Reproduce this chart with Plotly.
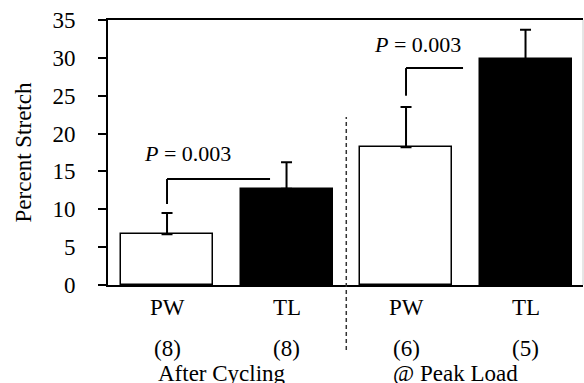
import plotly.graph_objects as go

# ---- data ----
categories = ["PW", "TL", "PW", "TL"]
positions = [0, 1, 2, 3]
n_labels = ["(8)", "(8)", "(6)", "(5)"]
means = [6.7, 12.7, 18.2, 29.8]
sd_plus = [2.8, 3.5, 5.3, 3.9]
bar_colors = ["white", "black", "white", "black"]
group_labels = ["After Cycling", "@ Peak Load"]
group_x = [0.46, 2.41]
p_text = ["<i>P</i> = 0.003", "<i>P</i> = 0.003"]
bracket_x0 = [0, 2]
bracket_x1 = [0.862, 2.477]
bracket_top = [14.0, 28.65]
bracket_bottom = [10.7, 25.0]
p_x = [0.17, 2.095]
p_y = [17.4, 31.7]

FONT = "Liberation Serif, Times New Roman, serif"

fig = go.Figure()
fig.add_trace(go.Bar(
    x=positions, y=means, width=0.77,
    marker=dict(color=bar_colors, line=dict(color="black", width=1.5)),
    error_y=dict(type="data", symmetric=False, array=sd_plus,
                 arrayminus=[0] * len(sd_plus), color="black",
                 thickness=2, width=5.5),
    showlegend=False,
))

shapes = []
for x0, x1, yt, yb in zip(bracket_x0, bracket_x1, bracket_top, bracket_bottom):
    shapes.append(dict(type="line", xref="x", yref="y", x0=x0, x1=x0, y0=yb, y1=yt,
                       line=dict(color="black", width=2)))
    shapes.append(dict(type="line", xref="x", yref="y", x0=x0, x1=x1, y0=yt, y1=yt,
                       line=dict(color="black", width=2)))
# dashed divider between groups
shapes.append(dict(type="line", xref="x", yref="paper", x0=1.5, x1=1.5, y0=-0.245, y1=0.634,
                   line=dict(color="#333333", width=1.5, dash="4px,3px")))
# faint right frame
shapes.append(dict(type="line", xref="paper", yref="paper", x0=1, x1=1, y0=0, y1=1,
                   line=dict(color="#cccccc", width=1)))

annotations = []
for x, t in zip(positions, categories):
    annotations.append(dict(x=x, y=-0.086, xref="x", yref="paper", text=t, showarrow=False,
                            yanchor="middle", font=dict(family=FONT, size=23, color="black")))
for x, t in zip(positions, n_labels):
    annotations.append(dict(x=x, y=-0.238, xref="x", yref="paper", text=t, showarrow=False,
                            yanchor="middle", font=dict(family=FONT, size=23, color="black")))
for x, t in zip(group_x, group_labels):
    annotations.append(dict(x=x, y=-0.335, xref="x", yref="paper", text=t, showarrow=False,
                            yanchor="middle", font=dict(family=FONT, size=23, color="black")))
for x, y, t in zip(p_x, p_y, p_text):
    annotations.append(dict(x=x, y=y, xref="x", yref="y", text=t, showarrow=False,
                            yanchor="middle", font=dict(family=FONT, size=22, color="black")))

fig.update_layout(
    width=584, height=383,
    margin=dict(l=108, r=1, t=20, b=98),
    paper_bgcolor="white", plot_bgcolor="white",
    font=dict(family=FONT, size=23, color="black"),
    xaxis=dict(range=[-0.494, 3.481], showticklabels=False, ticks="",
               showline=True, linecolor="black", linewidth=2, mirror=True,
               showgrid=False, zeroline=False),
    yaxis=dict(range=[0, 35], tickvals=[0, 5, 10, 15, 20, 25, 30, 35],
               ticks="outside", ticklen=8, tickwidth=2, tickcolor="black",
               showline=True, linecolor="black", linewidth=2,
               showgrid=False, zeroline=False, ticklabelstandoff=18,
               tickfont=dict(family=FONT, size=23, color="black"),
               title=dict(text="Percent Stretch", standoff=14,
                          font=dict(family=FONT, size=23, color="black"))),
    shapes=shapes, annotations=annotations,
    bargap=0,
)

fig.write_html("out.html")
